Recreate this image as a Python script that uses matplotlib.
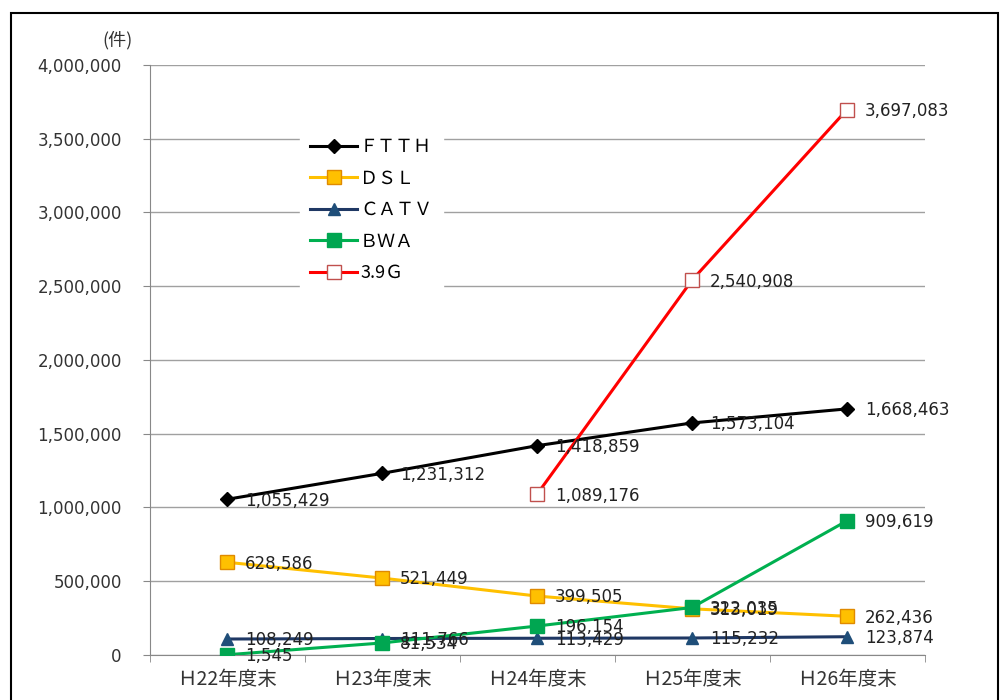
import matplotlib as mpl
mpl.use('Agg')
import matplotlib.pyplot as plt
from matplotlib.patches import Rectangle
from matplotlib.ticker import FuncFormatter, FixedLocator

plt.rcParams['font.family'] = ['Noto Sans CJK JP', 'DejaVu Sans']

categories = ['Ｈ22年度末', 'Ｈ23年度末', 'Ｈ24年度末', 'Ｈ25年度末', 'Ｈ26年度末']
ftth = [1055429, 1231312, 1418859, 1573104, 1668463]
dsl = [628586, 521449, 399505, 313019, 262436]
catv = [108249, 111766, 113429, 115232, 123874]
bwa = [1545, 81534, 196154, 322035, 909619]
g39_x = [2, 3, 4]
g39 = [1089176, 2540908, 3697083]

fig = plt.figure(figsize=(10, 7), dpi=100)
ax = fig.add_axes([0.1495, 0.0643, 0.775, 0.8429])
x = list(range(len(categories)))

series = [
    ('ＦＴＴＨ', x, ftth, dict(color='black', marker='D', ms=7, mfc='black', mec='black')),
    ('ＤＳＬ', x, dsl, dict(color='#FFC000', marker='s', ms=10, mfc='#FFC000', mec='#E08A00')),
    ('ＣＡＴＶ', x, catv, dict(color='#1F3864', marker='^', ms=9, mfc='#1F4E79', mec='#1F4E79')),
    ('ＢＷＡ', x, bwa, dict(color='#00B050', marker='s', ms=10, mfc='#00A651', mec='#00A651')),
    ('3.9Ｇ', g39_x, g39, dict(color='#FF0000', marker='s', ms=10, mfc='white', mec='#C0504D')),
]

for name, xs, ys, st in series:
    ax.plot(xs, ys, lw=2.2, label=name, zorder=3, **st)
    for xi, yi in zip(xs, ys):
        ax.annotate(f'{yi:,}', (xi, yi), xytext=(13, -1), textcoords='offset points',
                    ha='left', va='center', fontsize=12, color='#222222',
                    family='DejaVu Sans', zorder=4)

ax.set_xlim(-0.5, 4.5)
ax.set_ylim(0, 4000000)
ax.set_yticks(range(0, 4000001, 500000))
ax.yaxis.set_major_formatter(FuncFormatter(lambda v, p: f'{int(v):,}'))
ax.set_xticks(x)
ax.set_xticklabels(categories, fontsize=14, color='#333333')
ax.xaxis.set_minor_locator(FixedLocator([-0.5, 0.5, 1.5, 2.5, 3.5, 4.5]))
ax.tick_params(axis='x', which='major', length=0, pad=10)
ax.tick_params(axis='x', which='minor', length=5, color='#888888', direction='out')
ax.tick_params(axis='y', length=5, color='#888888', labelsize=12, labelcolor='#333333', pad=15)
for lab in ax.get_yticklabels():
    lab.set_family('DejaVu Sans')
ax.grid(axis='y', color='#A0A0A0', lw=1)
ax.set_axisbelow(True)
for s in ['top', 'right']:
    ax.spines[s].set_visible(False)
ax.spines['left'].set_color('#888888')
ax.spines['bottom'].set_color('#888888')

fig.text(0.117, 0.943, '(件)', fontsize=13, ha='center', va='center', color='#333333')

leg = ax.legend(loc='upper left', bbox_to_anchor=(0.182, 0.91), frameon=True,
                fontsize=13, handlelength=2.6, handletextpad=0.15, labelspacing=0.75,
                borderpad=0.6, edgecolor='white', facecolor='white', framealpha=1,
                fancybox=False)
leg.set_zorder(5)

fig.add_artist(Rectangle((0.011, -0.05), 0.987, 1.031, transform=fig.transFigure,
                         fill=False, edgecolor='black', lw=1.5))

fig.savefig('out.png', dpi=100)
